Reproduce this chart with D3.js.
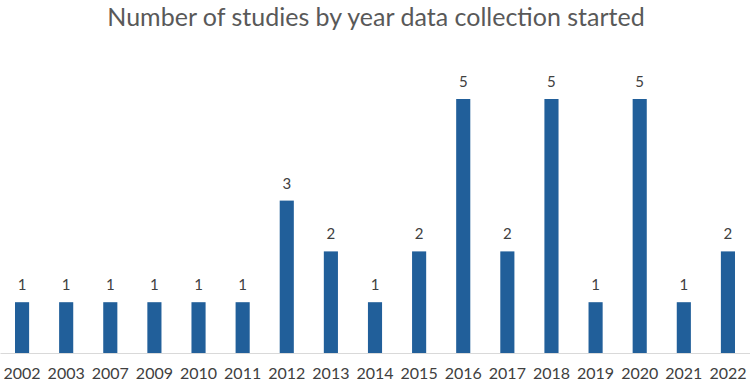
<!DOCTYPE html>
<html><head><meta charset="utf-8">
<script src="https://cdn.jsdelivr.net/npm/d3@7"></script>
<style>body{margin:0;background:#fff}</style>
</head><body>
<script>
const years = ["2002","2003","2007","2009","2010","2011","2012","2013","2014","2015","2016","2017","2018","2019","2020","2021","2022"];
const counts = [1,1,1,1,1,1,3,2,1,2,5,2,5,1,5,1,2];
const title = "Number of studies by year data collection started";

const W = 750, H = 384;
const svg = d3.select("body").append("svg").attr("width", W).attr("height", H);
const x = d3.scaleBand().domain(years).range([0, 750]).paddingInner(0.68).paddingOuter(0.34);
const y = d3.scaleLinear().domain([0, 5]).range([353, 99]);

svg.append("text").attr("x", 376).attr("y", 26).attr("text-anchor", "middle")
  .attr("font-family", "Lato, 'Open Sans', sans-serif").attr("font-size", 25)
  .attr("fill", "#595959").text(title);

svg.selectAll("rect.bar").data(years).join("rect").attr("class","bar")
  .attr("x", d => x(d)).attr("width", x.bandwidth())
  .attr("y", (d,i) => y(counts[i])).attr("height", (d,i) => y(0) - y(counts[i]))
  .attr("fill", "#215F9A");

svg.selectAll("text.val").data(years).join("text").attr("class","val")
  .attr("x", d => x(d) + x.bandwidth()/2).attr("y", (d,i) => y(counts[i]) - 12)
  .attr("text-anchor","middle").attr("font-family","Lato, 'Open Sans', sans-serif")
  .attr("font-size", 15).attr("fill", "#404040").text((d,i) => counts[i]);

const ax = svg.append("g").attr("transform", `translate(0,${y(0)})`)
  .call(d3.axisBottom(x).tickSize(0).tickPadding(15));
ax.select(".domain").attr("stroke", "#d9d9d9");
ax.selectAll("text").attr("font-family","Lato, 'Open Sans', sans-serif")
  .attr("font-size", 16).attr("fill", "#404040");
</script>
</body></html>
